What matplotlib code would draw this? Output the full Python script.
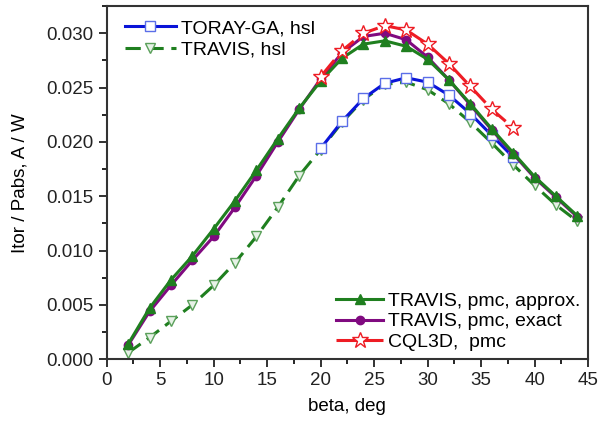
import matplotlib
matplotlib.use("Agg")
import matplotlib.pyplot as plt
from matplotlib.ticker import MultipleLocator, FormatStrFormatter

plt.rcParams['font.family'] = ['Liberation Sans', 'DejaVu Sans']

# Data
beta_full = [2, 4, 6, 8, 10, 12, 14, 16, 18, 20, 22, 24, 26, 28, 30, 32, 34, 36, 38, 40, 42, 44]
beta_short = [20, 22, 24, 26, 28, 30, 32, 34, 36, 38]

toray_hsl = [0.0194, 0.0219, 0.0240, 0.0254, 0.0259, 0.0255, 0.0243, 0.0226, 0.0206, 0.0186]
travis_hsl = [0.0006, 0.0020, 0.0035, 0.0050, 0.0068, 0.0089, 0.0113, 0.0140, 0.0169, 0.0193,
              0.0218, 0.0239, 0.0253, 0.0255, 0.0248, 0.0235, 0.0218, 0.0199, 0.0179, 0.0160,
              0.0142, 0.0127]
travis_pmc_approx = [0.0014, 0.0047, 0.0073, 0.0095, 0.0120, 0.0146, 0.0174, 0.0203, 0.0231, 0.0256,
                     0.0277, 0.0290, 0.0293, 0.0288, 0.0276, 0.0257, 0.0235, 0.0212, 0.0190, 0.0168,
                     0.0150, 0.0132]
travis_pmc_exact = [0.0013, 0.0044, 0.0068, 0.0091, 0.0113, 0.0140, 0.0169, 0.0200, 0.0230, 0.0258,
                    0.0282, 0.0297, 0.0300, 0.0294, 0.0278, 0.0257, 0.0234, 0.0211, 0.0189, 0.0167,
                    0.0149, 0.0131]
cql3d_pmc = [0.0260, 0.0284, 0.0300, 0.0307, 0.0303, 0.0290, 0.0272, 0.0251, 0.0230, 0.0213]

blue = '#0a14d8'
green = '#1f7f1f'
purple = '#800a80'
red = '#ee1c24'

fig = plt.figure(figsize=(6.10, 4.21), dpi=100)
ax = fig.add_axes([0.175, 0.1466, 0.789, 0.839])

l_hsl, = ax.plot(beta_full, travis_hsl, color=green, lw=2.2, ls=(0, (5, 2.5)), marker='v',
                 ms=7, mfc='#e6f2e6', mec='#5aa05a', mew=1.0, label='TRAVIS, hsl', zorder=2)
l_toray, = ax.plot(beta_short, toray_hsl, color=blue, lw=2.2, marker='s', ms=6.5,
                   mfc='white', mec='#5b6ee8', mew=1.0, label='TORAY-GA, hsl', zorder=3)
l_exact, = ax.plot(beta_full, travis_pmc_exact, color=purple, lw=2.2, marker='o', ms=6,
                   mfc=purple, mec=purple, label='TRAVIS, pmc, exact', zorder=4)
l_approx, = ax.plot(beta_full, travis_pmc_approx, color=green, lw=2.2, marker='^', ms=7,
                    mfc=green, mec=green, label='TRAVIS, pmc, approx.', zorder=5)
l_cql, = ax.plot(beta_short, cql3d_pmc, color=red, lw=2.2, ls=(0, (7, 2)), marker='*', ms=12,
                 mfc='white', mec=red, mew=1.0, label='CQL3D,  pmc', zorder=6)

ax.set_xlim(0, 45)
ax.set_ylim(0, 0.0325)
ax.xaxis.set_major_locator(MultipleLocator(5))
ax.xaxis.set_minor_locator(MultipleLocator(2.5))
ax.yaxis.set_major_locator(MultipleLocator(0.005))
ax.yaxis.set_minor_locator(MultipleLocator(0.0025))
ax.yaxis.set_major_formatter(FormatStrFormatter('%.3f'))
ax.tick_params(which='major', direction='out', length=6, width=1.3, labelsize=13.5, colors='#222222')
ax.tick_params(which='minor', direction='out', length=3.5, width=1.2)
for s in ax.spines.values():
    s.set_linewidth(1.5)
    s.set_color('#333333')

ax.set_xlabel('beta, deg', fontsize=13.5, labelpad=6)
ax.set_ylabel('Itor / Pabs, A / W', fontsize=13.5, labelpad=13)

leg1 = ax.legend(handles=[l_toray, l_hsl], loc='upper left', frameon=False, fontsize=14,
                 handlelength=2.6, handletextpad=0.25, labelspacing=0.2,
                 bbox_to_anchor=(0.01, 1.0), borderaxespad=0.3)
ax.add_artist(leg1)
ax.legend(handles=[l_approx, l_exact, l_cql], loc='lower right', frameon=False, fontsize=14,
          handlelength=2.4, handletextpad=0.25, labelspacing=0.15,
          bbox_to_anchor=(1.012, -0.015), borderaxespad=0.3)

fig.savefig('out.png', dpi=100)
